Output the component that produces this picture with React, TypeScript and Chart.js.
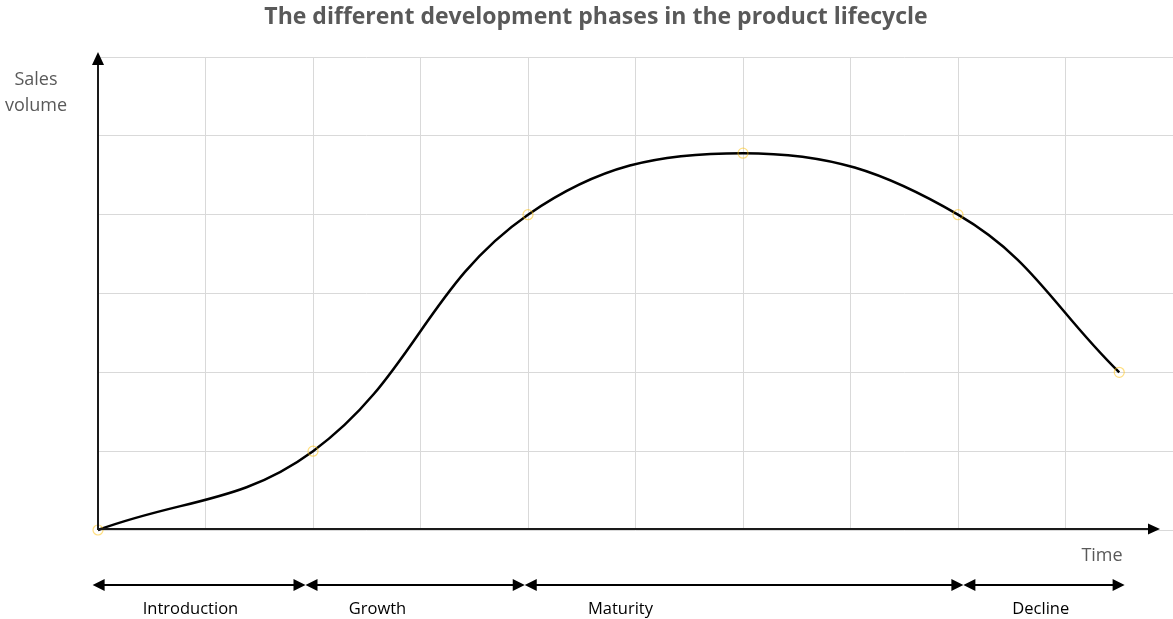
import React, { useEffect, useRef } from 'react';
import { Chart, registerables } from 'chart.js';

Chart.register(...registerables);

// ---- data ----
const timeValues = [0, 2, 4, 6, 8, 9.5];
const salesValues = [0, 1, 4, 4.78, 4, 2];
const phaseNames = ['Introduction', 'Growth', 'Maturity', 'Decline'];
const phaseStarts = [-0.05, 1.93, 3.97, 8.05];
const phaseEnds = [1.93, 3.97, 8.05, 9.55];
const phaseLabelAt = [0.86, 2.6, 4.86, 8.77];
const chartTitle = 'The different development phases in the product lifecycle';
const yAxisTitle = ['Sales', 'volume'];
const xAxisTitle = 'Time';

function arrowHead(ctx: CanvasRenderingContext2D, tipX: number, tipY: number, dir: 'left' | 'right' | 'up', len: number, half: number) {
  ctx.beginPath();
  ctx.moveTo(tipX, tipY);
  if (dir === 'left') {
    ctx.lineTo(tipX + len, tipY - half);
    ctx.lineTo(tipX + len, tipY + half);
  } else if (dir === 'right') {
    ctx.lineTo(tipX - len, tipY - half);
    ctx.lineTo(tipX - len, tipY + half);
  } else {
    ctx.lineTo(tipX - half, tipY + len);
    ctx.lineTo(tipX + half, tipY + len);
  }
  ctx.closePath();
  ctx.fill();
}

const decorPlugin = {
  id: 'decor',
  afterDraw(chart: any) {
    const ctx: CanvasRenderingContext2D = chart.ctx;
    const xs = chart.scales.x;
    const ys = chart.scales.y;
    const ox = xs.getPixelForValue(0);
    const oy = ys.getPixelForValue(0) - 1;
    ctx.save();

    // axes with arrows
    ctx.strokeStyle = '#1a1a1a';
    ctx.fillStyle = '#000000';
    ctx.lineWidth = 2;
    ctx.beginPath();
    ctx.moveTo(ox, oy + 1);
    ctx.lineTo(ox, 62);
    ctx.stroke();
    arrowHead(ctx, ox, 52, 'up', 13, 6);
    ctx.beginPath();
    ctx.moveTo(ox, oy);
    ctx.lineTo(1150, oy);
    ctx.stroke();
    arrowHead(ctx, 1160, oy, 'right', 12, 5.5);

    // title
    ctx.fillStyle = '#595959';
    ctx.textAlign = 'center';
    ctx.textBaseline = 'alphabetic';
    ctx.font = 'bold 23px "Open Sans"';
    ctx.fillText(chartTitle, 596, 24);

    // axis titles
    ctx.font = '18px "Open Sans"';
    ctx.fillText(yAxisTitle[0], 36, 85);
    ctx.fillText(yAxisTitle[1], 36, 111);
    ctx.fillText(xAxisTitle, 1102, 561);

    // phases
    const ay = 585;
    ctx.strokeStyle = '#000000';
    ctx.fillStyle = '#000000';
    ctx.lineWidth = 2;
    phaseNames.forEach((name, i) => {
      const sx = xs.getPixelForValue(phaseStarts[i]);
      const ex = xs.getPixelForValue(phaseEnds[i]);
      ctx.beginPath();
      ctx.moveTo(sx + 8, ay);
      ctx.lineTo(ex - 8, ay);
      ctx.stroke();
      arrowHead(ctx, sx, ay, 'left', 12, 6);
      arrowHead(ctx, ex, ay, 'right', 12, 6);
      ctx.font = '16.5px "Open Sans"';
      ctx.fillText(name, xs.getPixelForValue(phaseLabelAt[i]), 614);
    });
    ctx.restore();
  },
};

export default function App() {
  const canvasRef = useRef<HTMLCanvasElement | null>(null);

  useEffect(() => {
    document.body.style.margin = '0';
    const canvas = canvasRef.current;
    if (!canvas) return;
    const chart = new Chart(canvas, {
      type: 'line',
      data: {
        datasets: [
          {
            data: timeValues.map((t, i) => ({ x: t, y: salesValues[i] })),
            borderColor: '#000000',
            borderWidth: 2.5,
            tension: 0.4,
            pointRadius: 5,
            pointBorderWidth: 1.2,
            pointBorderColor: 'rgba(255, 192, 0, 0.5)',
            pointBackgroundColor: 'rgba(0,0,0,0)',
            fill: false,
            clip: false as any,
          },
        ],
      },
      options: {
        animation: false,
        responsive: false,
        maintainAspectRatio: false,
        devicePixelRatio: 1,
        layout: { autoPadding: false, padding: { left: 98, right: 0, top: 57, bottom: 89 } },
        plugins: {
          legend: { display: false },
          tooltip: { enabled: false },
          title: { display: false },
        },
        scales: {
          x: {
            type: 'linear',
            min: 0,
            max: 10,
            ticks: { display: false, stepSize: 1 },
            grid: { color: '#d9d9d9', lineWidth: 1, drawTicks: false },
            border: { display: false },
          },
          y: {
            type: 'linear',
            min: 0,
            max: 6,
            ticks: { display: false, stepSize: 1 },
            grid: { color: '#d9d9d9', lineWidth: 1, drawTicks: false },
            border: { display: false },
          },
        },
      },
      plugins: [decorPlugin],
    });
    return () => chart.destroy();
  }, []);

  return (
    <div style={{ width: 1173, height: 619, position: 'relative' }}>
      <canvas ref={canvasRef} width={1173} height={619} style={{ display: 'block' }} />
    </div>
  );
}
